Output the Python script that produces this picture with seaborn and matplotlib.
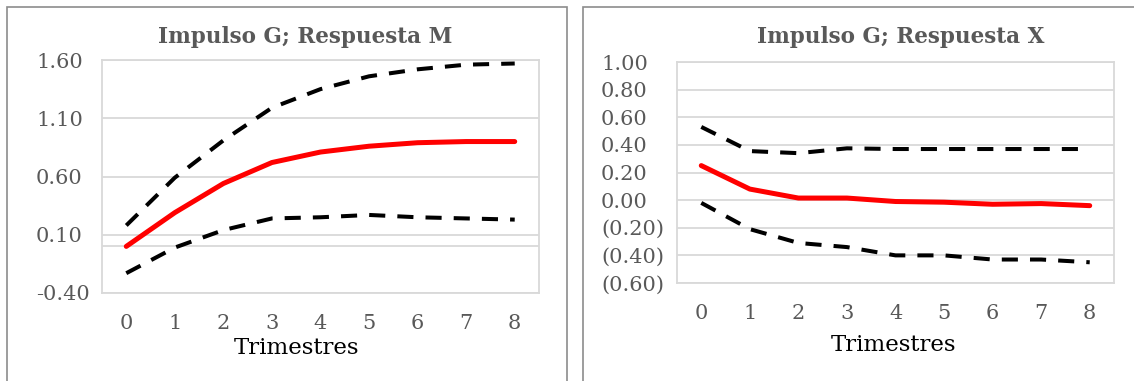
"""
Impulse-response charts: Impulso G on M and X.
"""

import numpy as np
import pandas as pd
import seaborn as sns
from matplotlib import pyplot as plt
from matplotlib.patches import Rectangle
from matplotlib.ticker import FuncFormatter

trimestres = [0, 1, 2, 3, 4, 5, 6, 7, 8]

# Respuesta M
m_resp = [0.00, 0.29, 0.54, 0.72, 0.81, 0.86, 0.89, 0.90, 0.90]
m_upper = [0.18, 0.59, 0.91, 1.19, 1.35, 1.46, 1.52, 1.56, 1.57]
m_lower = [-0.23, -0.01, 0.14, 0.24, 0.25, 0.27, 0.25, 0.24, 0.23]
m_ticks = [-0.40, 0.10, 0.60, 1.10, 1.60]

# Respuesta X
x_resp = [0.25, 0.08, 0.015, 0.015, -0.01, -0.015, -0.03, -0.025, -0.04]
x_upper = [0.53, 0.355, 0.34, 0.375, 0.37, 0.37, 0.37, 0.37, 0.37]
x_lower = [-0.02, -0.21, -0.31, -0.34, -0.40, -0.40, -0.43, -0.43, -0.45]
x_ticks = [-0.60, -0.40, -0.20, 0.00, 0.20, 0.40, 0.60, 0.80, 1.00]

sns.set_style("white")
plt.rcParams["font.family"] = ["DejaVu Serif"]

GRAY_TXT = "#595959"
GRID = "#d9d9d9"

W, H = 1134, 381
fig = plt.figure(figsize=(W / 100, H / 100), dpi=100)


def px_axes(x0, y0, x1, y1):
    return fig.add_axes([x0 / W, 1 - y1 / H, (x1 - x0) / W, (y1 - y0) / H])


def draw(ax, resp, upper, lower, yticks, fmt, ypad):
    df = pd.DataFrame(
        {"t": trimestres, "resp": resp, "upper": upper, "lower": lower}
    )
    ax.set_yticks(yticks)
    ax.set_ylim(yticks[0], yticks[-1])
    ax.set_xlim(-0.5, 8.5)
    ax.grid(axis="y", color=GRID, linewidth=1.3)
    ax.set_axisbelow(True)
    for s in ax.spines.values():
        s.set_color(GRID)
        s.set_linewidth(1.3)
    for col in ["upper", "lower"]:
        sns.lineplot(data=df, x="t", y=col, ax=ax, color="black", linewidth=2.9)
        ax.lines[-1].set_dashes((4, 3))
    sns.lineplot(data=df, x="t", y="resp", ax=ax, color="#ff0000", linewidth=3.6)
    ax.set_xticks(trimestres)
    ax.yaxis.set_major_formatter(FuncFormatter(fmt))
    ax.tick_params(axis="both", length=0, labelsize=15, colors=GRAY_TXT)
    ax.tick_params(axis="y", pad=ypad)
    ax.tick_params(axis="x", pad=15)
    for lab in ax.get_yticklabels():
        lab.set_horizontalalignment("left")
    ax.set_ylabel("")
    ax.set_xlabel("Trimestres", fontsize=16.5, color="black")


# panel borders
fig.patches.append(Rectangle((7 / W, -0.1), (567 - 7) / W, 1.1 - 7 / H,
                             transform=fig.transFigure, fill=False,
                             edgecolor="#8c8c8c", linewidth=1.2))
fig.patches.append(Rectangle((583 / W, -0.1), 0.6, 1.1 - 7 / H,
                             transform=fig.transFigure, fill=False,
                             edgecolor="#8c8c8c", linewidth=1.2))

# left chart
ax1 = px_axes(102, 60, 539, 293)
draw(ax1, m_resp, m_upper, m_lower, m_ticks,
     lambda v, p: f"{v:.2f}", (102 - 36) * 0.72)
ax1.axhline(0, color=GRID, linewidth=1.3, zorder=0)
ax1.xaxis.set_label_coords((296 - 102) / 437, (293 - 348) / 233)
ax1.xaxis.label.set_va("center")
fig.text(305 / W, 1 - 43 / H, "Impulso G; Respuesta M", ha="center",
         va="baseline", fontsize=15.5, fontweight="bold", color=GRAY_TXT)

# right chart
ax2 = px_axes(677, 62, 1114, 283)
draw(ax2, x_resp, x_upper, x_lower, x_ticks,
     lambda v, p: f"({abs(v):.2f})" if v < -1e-9 else f"{abs(v):.2f}",
     (677 - 601) * 0.72)
ax2.xaxis.set_label_coords((893 - 677) / 437, (283 - 345) / 221)
ax2.xaxis.label.set_va("center")
fig.text(901 / W, 1 - 43 / H, "Impulso G; Respuesta X", ha="center",
         va="baseline", fontsize=15.5, fontweight="bold", color=GRAY_TXT)

plt.savefig("out.png", dpi=100)
